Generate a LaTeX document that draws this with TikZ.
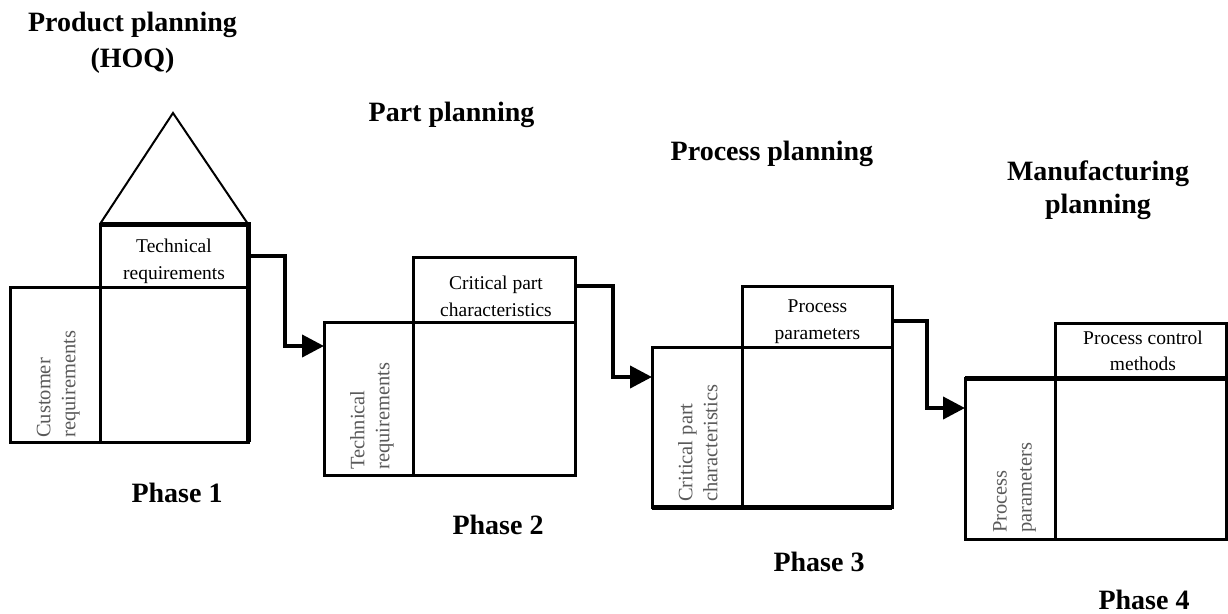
\documentclass[tikz,border=0pt]{standalone}
\usepackage{fontspec}
\setmainfont{Liberation Serif}
\usetikzlibrary{arrows.meta,calc}
\begin{document}
\begin{tikzpicture}[x=1pt,y=-1pt,
 cell/.style={draw,line width=3pt,inner sep=0pt,outer sep=0pt,anchor=north west},
 celltext/.style={align=center,inner sep=0pt,font=\fontsize{19.5}{27}\selectfont},
 side/.style={rotate=90,anchor=north west,align=left,inner sep=0pt,text=black!65,font=\fontsize{20.5}{25}\selectfont},
 title/.style={font=\fontsize{28}{36}\selectfont\bfseries,align=center,inner sep=0pt},
 conn/.style={line width=4pt,-{Triangle[length=22pt,width=22pt]}},
 heavy/.style={line width=5pt},
 thin/.style={line width=2pt}]
\useasboundingbox (0,0) rectangle (1228,613);

% Phase 1
\node[cell,minimum width=148pt,minimum height=63pt] (t1) at (100,224) {};
\node[cell,minimum width=90pt,minimum height=155pt] (c1) at (10,287) {};
\node[cell,minimum width=148pt,minimum height=155pt] (m1) at (100,287) {};
\coordinate (apex1) at (173,113);
\draw[thin] (t1.north west) -- (apex1) -- (t1.north east);
\draw[heavy] (t1.north west) -- (t1.north east) -- (m1.south east);
\node[celltext] (l1) at (174,261.5) {Technical\\requirements};
\node[side] (s1) at (36.5,438) {Customer\\requirements};

% Phase 2
\node[cell,minimum width=162pt,minimum height=65pt] (t2) at (413,257) {};
\node[cell,minimum width=89pt,minimum height=153pt] (c2) at (324,322) {};
\node[cell,minimum width=162pt,minimum height=153pt] (m2) at (413,322) {};
\node[celltext] (l2) at (496,296) {Critical part\\characteristics};
\node[side] (s2) at (350,470) {Technical\\requirements};

% Phase 3
\node[cell,minimum width=150pt,minimum height=61pt] (t3) at (742,286) {};
\node[cell,minimum width=90pt,minimum height=160pt] (c3) at (652,347) {};
\node[cell,minimum width=150pt,minimum height=160pt] (m3) at (742,347) {};
\draw[heavy] (c3.south west) -- (m3.south east);
\node[celltext] (l3) at (817.5,321.5) {Process\\parameters};
\node[side] (s3) at (678,502) {Critical part\\characteristics};

% Phase 4
\node[cell,minimum width=171pt,minimum height=55pt] (t4) at (1055,323) {};
\node[cell,minimum width=90pt,minimum height=161pt] (c4) at (965,378) {};
\node[cell,minimum width=171pt,minimum height=161pt] (m4) at (1055,378) {};
\draw[heavy] (c4.north west) -- (m4.north east);
\node[celltext,font=\fontsize{19.5}{26.5}\selectfont] (l4) at (1143,351) {Process control\\methods};
\node[side] (s4) at (993,533) {Process\\parameters};

% connectors
\coordinate (e2) at ($(c2.north west)+(0,24)$);
\coordinate (e3) at ($(c3.north west)+(0,30)$);
\coordinate (e4) at ($(c4.north west)+(0,30)$);
\draw[conn] (t1.east) -- ++(37,0) |- (e2);
\draw[conn] ($(t2.east)+(0,-4)$) -- ++(38,0) |- (e3);
\draw[conn] ($(t3.east)+(0,4)$) -- ++(35,0) |- (e4);

% titles
\node[title] (pp) at (132.5,43) {Product planning\\(HOQ)};
\node[title] (pt) at (451.5,114.5) {Part planning};
\node[title] (pr) at (772,153.5) {Process planning};
\node[title,font=\fontsize{28}{33}\selectfont\bfseries] (mf) at (1098,190) {Manufacturing\\planning};

% phase labels
\node[title] (ph1) at (177,492.5) {Phase 1};
\node[title] (ph2) at (498,524.5) {Phase 2};
\node[title] (ph3) at (819,561.5) {Phase 3};
\node[title] (ph4) at (1144,599.5) {Phase 4};
\end{tikzpicture}
\end{document}
